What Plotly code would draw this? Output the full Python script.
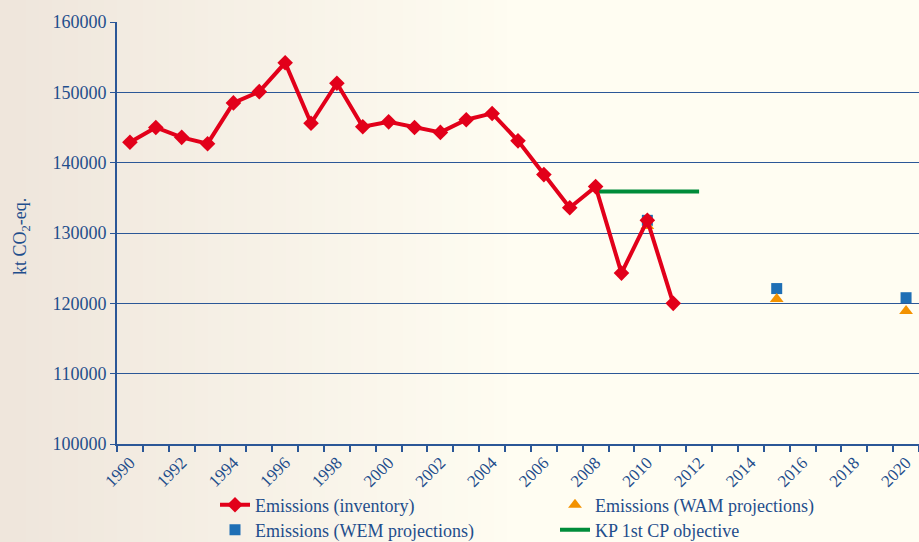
import plotly.graph_objects as go

# ---- data ----
inv_years = list(range(1990, 2012))
inv_values = [142900, 145000, 143600, 142700, 148500, 150100, 154200, 145600,
              151300, 145100, 145800, 145000, 144300, 146100, 147000, 143100,
              138300, 133600, 136600, 124300, 131800, 120000]
wem_years = [2010, 2015, 2020]
wem_values = [131800, 122100, 120800]
wam_years = [2010, 2015, 2020]
wam_values = [131000, 120600, 118900]
kp_years = [2008, 2012]
kp_values = [135900, 135900]

y_title = "kt CO<sub>2</sub>-eq."
names = ["Emissions (inventory)", "Emissions (WAM projections)",
         "Emissions (WEM projections)", "KP 1st CP objective"]

BLUE = "#1f4e8c"
GRID = "#2b5797"
FONT = "Liberation Serif"

fig = go.Figure()

fig.add_trace(go.Scatter(x=wem_years, y=wem_values, mode="markers", name=names[2],
                         marker=dict(symbol="square", size=11, color="#1f6fb5"),
                         legend="legend2", legendrank=1))
fig.add_trace(go.Scatter(x=wam_years, y=wam_values, mode="markers", name=names[1],
                         marker=dict(symbol="triangle-up", size=12, color="#f39200"),
                         legend="legend", legendrank=2))
fig.add_trace(go.Scatter(x=kp_years, y=kp_values, mode="lines", name=names[3],
                         line=dict(color="#008c3a", width=4),
                         legend="legend2", legendrank=2))
fig.add_trace(go.Scatter(x=inv_years, y=inv_values, mode="lines+markers", name=names[0],
                         line=dict(color="#e2001a", width=4),
                         marker=dict(symbol="diamond", size=12, color="#e2001a"),
                         legend="legend", legendrank=1))

# background gradient strips (styling only)
L, PW, B, PH = 117, 802, 444, 422
n = 40
c0 = (0xEF, 0xE6, 0xDC)
c1 = (0xFF, 0xFD, 0xF2)
gx_end = 520
shapes = []
for i in range(n):
    x0 = gx_end * i / n
    x1 = gx_end * (i + 1) / n + 1
    t = i / (n - 1)
    col = "rgb(%d,%d,%d)" % tuple(int(c0[k] + (c1[k] - c0[k]) * t) for k in range(3))
    shapes.append(dict(type="rect", xref="paper", yref="paper",
                       x0=(x0 - L) / PW, x1=(x1 - L) / PW, y0=-0.3, y1=1.1,
                       fillcolor=col, line=dict(width=0), layer="below"))

leg_common = dict(orientation="h", x=(215 - L) / PW, xanchor="left", yanchor="middle",
                  entrywidth=295, entrywidthmode="pixels",
                  font=dict(family=FONT, size=18, color=BLUE),
                  bgcolor="rgba(0,0,0,0)", traceorder="normal")

fig.update_layout(
    width=919, height=542,
    margin=dict(l=117, r=0, t=22, b=98, autoexpand=False),
    paper_bgcolor="#fffdf2",
    plot_bgcolor="rgba(0,0,0,0)",
    font=dict(family=FONT, color=BLUE, size=17),
    shapes=shapes,
    showlegend=True,
    legend=dict(y=(B - 505) / PH, **leg_common),
    legend2=dict(y=(B - 530) / PH, **leg_common),
    xaxis=dict(range=[1989.5, 2020.5], tickmode="linear", tick0=1990, dtick=2,
               tickangle=-45, ticks="", showgrid=False, zeroline=False,
               showline=True, linecolor=GRID, linewidth=2,
               tickfont=dict(family=FONT, size=17, color=BLUE),
               minor=dict(tickmode="linear", tick0=1989.5, dtick=1, ticks="outside",
                          ticklen=6, tickcolor=GRID, tickwidth=1.5, showgrid=False)),
    yaxis=dict(range=[100000, 160000], tickmode="linear", tick0=100000, dtick=10000,
               tickformat="d", showgrid=True, gridcolor=GRID, gridwidth=1.3,
               zeroline=False, showline=True, linecolor=GRID, linewidth=2,
               ticks="outside", ticklen=5, tickcolor=GRID,
               tickfont=dict(family=FONT, size=18, color=BLUE)),
    annotations=[dict(text=y_title, xref="paper", yref="paper",
                      x=(21 - L) / PW, y=(B - 237) / PH, textangle=-90, showarrow=False,
                      xanchor="center", yanchor="middle",
                      font=dict(family=FONT, size=18, color=BLUE))],
)

fig.write_html("out.html", config={"displayModeBar": False},
               post_script="document.body.style.margin='0px';")
